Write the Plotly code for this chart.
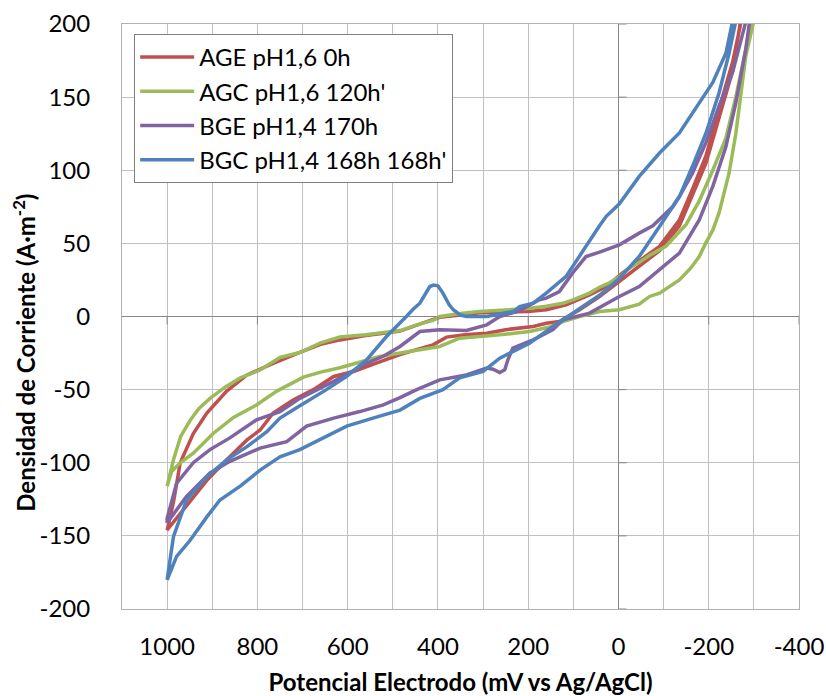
import plotly.graph_objects as go

# ---------------- data (mV vs Ag/AgCl, A·m-2) ----------------
series_names = ["AGE pH1,6 0h", "AGC pH1,6 120h'", "BGE pH1,4 170h", "BGC pH1,4 168h 168h'"]

# red – AGE pH1,6 0h
red_up_mv = [-274, -253, -223, -194, -164, -135, -91, -46, -10, 27, 64, 116, 160, 200, 250, 308, 350, 396, 420, 484, 520, 560, 617, 660, 706, 765, 823, 868, 912, 942, 971, 986, 1000]
red_up_j = [205, 174, 142, 110, 87, 66, 48, 38, 30, 20.5, 14.8, 8, 4.6, 3.5, 3, 2.5, 1, -0.5, -3, -10, -11.5, -13, -16, -19, -24.6, -32, -40, -51, -66, -80, -100, -127, -146]
red_dn_mv = [1000, 971, 942, 912, 868, 823, 794, 765, 720, 676, 631, 587, 529, 484, 440, 411, 381, 340, 292, 250, 189, 160, 131, 86, 42, -2, -46, -91, -135, -164, -194, -223, -253, -272]
red_dn_j = [-146, -134.6, -123, -112, -98, -84.4, -77.6, -66, -57, -50, -41, -37.6, -31, -26, -22, -19.4, -14.1, -12.5, -11.4, -9, -6.8, -4.6, -3.4, 4.6, 13.7, 24, 35, 45, 62, 83, 105, 136, 168, 205]

# green – AGC pH1,6 120h'
grn_up_mv = [-297, -282, -260, -238, -209, -179, -150, -105, -70, -46, -24, -2, 20, 42, 64, 95, 123, 160, 200, 250, 308, 350, 396, 411, 440, 484, 520, 560, 617, 660, 706, 750, 794, 838, 870, 905, 930, 949, 970, 986, 1000]
grn_up_j = [205, 182, 150, 122, 100, 79, 63, 48, 42, 37, 33, 27, 23, 20, 16, 12, 9, 7, 5.5, 4.5, 3.4, 2, 0, -2.7, -5, -9.6, -11, -12.5, -14, -18, -24.6, -28, -36.5, -42, -48, -56, -63, -71, -82, -98, -116]
grn_dn_mv = [1000, 990, 971, 942, 898, 853, 802, 757, 698, 660, 617, 580, 529, 484, 440, 396, 352, 308, 263, 197, 150, 123, 86, 42, -2, -46, -69, -91, -135, -160, -179, -193, -209, -223, -245, -260, -271, -282, -302]
grn_dn_j = [-116, -106, -100, -93.5, -80, -69, -60.5, -51, -41.5, -38, -35, -32, -27.4, -25, -22.5, -20.5, -14.8, -13.7, -12.5, -10.3, -7, -3.4, 0, 3.4, 4.6, 8.5, 13.7, 16, 25, 33, 41, 50, 59, 71, 98, 125, 153, 178, 205]

# purple – BGE pH1,4 170h
pur_up_mv = [-285, -253, -223, -194, -164, -135, -120, -91, -76, -46, -2, 42, 72, 101, 131, 160, 175, 219, 263, 292, 337, 396, 440, 484, 520, 558, 600, 632, 706, 750, 802, 861, 905, 942, 979, 1000]
pur_up_j = [205, 167, 144, 119, 98, 82, 75, 66, 62, 57, 49, 44, 41, 30, 17, 12.6, 11.4, 4, 0, -5.7, -9.6, -9, -10.3, -20.5, -27, -32, -39, -44.5, -56, -65, -70.7, -83, -91, -100, -114, -138]
pur_dn_mv = [1000, 957, 905, 861, 794, 735, 691, 631, 573, 521, 484, 447, 396, 337, 292, 278, 263, 252, 245, 234, 189, 145, 123, 64, -2, -46, -91, -135, -179, -209, -238, -260, -282, -292]
pur_dn_j = [-141, -123, -107, -99, -90, -85.6, -75, -69.5, -65, -60.4, -55.5, -50, -43.3, -40, -35.3, -36, -38.3, -36.5, -29.6, -21.6, -16, -9, -2.3, 2.3, 13.7, 20.5, 32, 43.4, 66, 89, 116, 146, 182.6, 205]

# blue – BGC pH1,4 168h 168h'
blu_up_mv = [-255, -238, -209, -179, -135, -91, -46, -2, 27, 42, 72, 116, 160, 189, 219, 233, 292, 337, 350, 366, 375, 389, 400, 410, 418, 428, 440, 455, 470, 514, 558, 602, 647, 706, 750, 779, 823, 868, 912, 957, 986, 1000]
blu_up_j = [205, 180, 160, 146, 125.5, 111.8, 95.8, 77, 68.5, 62, 48, 27.4, 16, 9.1, 6.8, 3.4, 0, 0, 1, 4.6, 8, 16, 21, 21.5, 20.5, 15, 9.1, 5, 0, -13.7, -29.6, -41, -50, -61, -69.5, -78.7, -89, -98, -109.5, -125.5, -150.6, -180]
blu_dn_mv = [1000, 979, 949, 912, 883, 838, 794, 750, 706, 647, 602, 544, 484, 440, 389, 352, 300, 263, 204, 197, 145, 101, 42, -2, -46, -91, -135, -164, -194, -223, -245, -262]
blu_dn_j = [-180, -164, -153, -137, -125.5, -116, -105, -96, -91, -82, -75, -69.5, -64, -56, -50, -42, -37.6, -28.5, -19.4, -18.3, -6.8, 2.3, 14.5, 26, 41, 61.6, 82, 102.7, 125.5, 153, 180, 205]

x_ticks = [1000, 800, 600, 400, 200, 0, -200, -400]
y_ticks = [-200, -150, -100, -50, 0, 50, 100, 150, 200]

colors = ["#C0504D", "#9BBB59", "#8064A2", "#4F81BD"]
loops = [
    (red_up_mv + red_dn_mv, red_up_j + red_dn_j),
    (grn_up_mv + grn_dn_mv, grn_up_j + grn_dn_j),
    (pur_up_mv + pur_dn_mv, pur_up_j + pur_dn_j),
    (blu_up_mv + blu_dn_mv, blu_up_j + blu_dn_j),
]

FONT = "Lato"
fig = go.Figure()
for i, ((xs, ys), name, c) in enumerate(zip(loops, series_names, colors)):
    fig.add_trace(go.Scatter(x=xs, y=ys, mode="lines", name=name,
                             line=dict(color=c, width=3.5), legendgroup=f"g{i}"))

grid = "#c0c0c0"
fig.update_layout(
    width=826, height=696, autosize=False,
    margin=dict(l=122, r=27, t=24, b=87),
    paper_bgcolor="white", plot_bgcolor="white",
    font=dict(family=FONT, size=24, color="black"),
    showlegend=True,
    legend=dict(x=0.018, y=0.983, xanchor="left", yanchor="top",
                bgcolor="white", bordercolor="#7f7f7f", borderwidth=1,
                font=dict(family=FONT, size=24, color="black"),
                itemwidth=54, tracegroupgap=9, traceorder="normal"),
    xaxis=dict(range=[1100, -400], tickmode="array", tickvals=x_ticks,
               ticktext=[str(v) for v in x_ticks], automargin=False,
               showgrid=True, gridcolor=grid, gridwidth=1,
               minor=dict(dtick=100, tick0=0, showgrid=True, gridcolor=grid, gridwidth=1),
               zeroline=True, zerolinecolor="#868686", zerolinewidth=1,
               showline=True, linecolor="#b0b0b0", mirror=True,
               ticks="", ticklabelstandoff=16,
               tickfont=dict(family=FONT, size=24, color="black"),
               title=dict(text="<b>Potencial Electrodo (mV vs Ag/AgCl)</b>",
                          font=dict(family=FONT, size=24, color="black"), standoff=18)),
    yaxis=dict(range=[-200, 200], tickmode="array", tickvals=y_ticks,
               ticktext=[str(v) for v in y_ticks], automargin=False,
               showgrid=True, gridcolor=grid, gridwidth=1,
               zeroline=True, zerolinecolor="#868686", zerolinewidth=1,
               showline=True, linecolor="#b0b0b0", mirror=True,
               ticks="", ticklabelstandoff=26,
               tickfont=dict(family=FONT, size=24, color="black")),
)

# y-axis title placed as text annotation (centred as in the reference)
fig.add_annotation(text="<b>Densidad de Corriente (A·m<sup>-2</sup>)</b>",
                   xref="paper", yref="paper", x=0, y=0.438, xanchor="center", yanchor="middle",
                   xshift=-98, textangle=-90, showarrow=False,
                   font=dict(family=FONT, size=24, color="black"))

# small tick marks on the axes crossing at zero
for v in x_ticks:
    fig.add_shape(type="line", xref="x", yref="y", x0=v, x1=v, y0=0, y1=-8,
                  ysizemode="pixel", yanchor=0, line=dict(color="#868686", width=1))
for v in y_ticks:
    fig.add_shape(type="line", xref="x", yref="y", y0=v, y1=v, x0=0, x1=8,
                  xsizemode="pixel", xanchor=0, line=dict(color="#868686", width=1))

fig.write_html("out.html")
